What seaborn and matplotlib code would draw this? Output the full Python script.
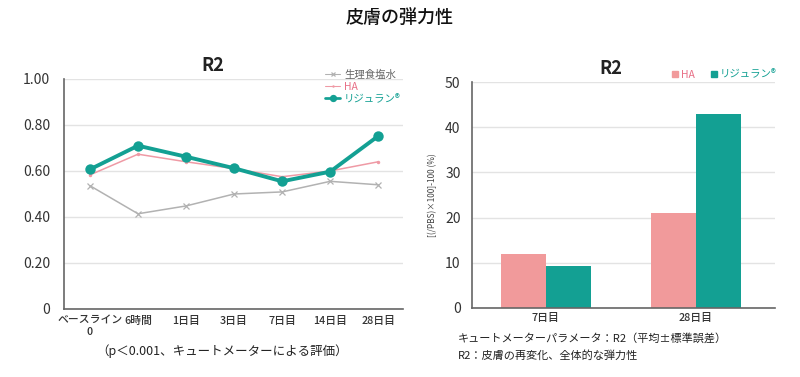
import pandas as pd
import seaborn as sns
import matplotlib.pyplot as plt
from matplotlib.lines import Line2D
from matplotlib.patches import Patch

times = ['ベースライン\n0', '6時間', '1日目', '3日目', '7日目', '14日目', '28日目']
saline = [0.536, 0.414, 0.448, 0.500, 0.509, 0.555, 0.540]
ha = [0.583, 0.673, 0.640, 0.610, 0.575, 0.600, 0.640]
rejuran = [0.607, 0.710, 0.662, 0.612, 0.555, 0.597, 0.752]

bar_days = ['7日目', '28日目']
bar_ha = [12.0, 20.9]
bar_rejuran = [9.2, 43.0]

series_names = ['生理食塩水', 'HA', 'リジュラン®']

teal = '#13a093'
pink_line = '#ef9aa5'
pink_bar = '#f19a9b'
gray = '#b2b2b2'
txt = '#333333'

sns.set_theme(style='white')
plt.rcParams['font.family'] = ['Noto Sans CJK JP', 'DejaVu Sans']

fig = plt.figure(figsize=(8, 3.77), dpi=100)
ax1 = fig.add_axes([0.08, 0.1804, 0.424, 0.6101])
ax2 = fig.add_axes([0.5896, 0.1838, 0.3794, 0.5979])

# line chart
pos = list(range(len(times)))
line_df = pd.DataFrame({
    'x': pos * 3,
    'value': saline + ha + rejuran,
    'group': [series_names[0]] * 7 + [series_names[1]] * 7 + [series_names[2]] * 7,
})
styles = {
    series_names[0]: dict(color=gray, lw=1.1, marker='x', ms=4, mew=0.9),
    series_names[1]: dict(color=pink_line, lw=1.1, marker='o', ms=2.5, mew=0),
    series_names[2]: dict(color=teal, lw=2.8, marker='o', ms=7.5, mew=0),
}
for name in series_names:
    st = styles[name]
    sns.lineplot(data=line_df[line_df['group'] == name], x='x', y='value', ax=ax1,
                 sort=False, color=st['color'], lw=st['lw'], marker=st['marker'],
                 markersize=st['ms'], markeredgewidth=st['mew'],
                 markeredgecolor=st['color'], legend=False)

ax1.set_xlim(-0.54, 6.52)
ax1.set_ylim(0, 1.0)
ax1.set_yticks([0, 0.2, 0.4, 0.6, 0.8, 1.0])
ax1.set_yticklabels(['0', '0.20', '0.40', '0.60', '0.80', '1.00'])
ax1.set_xticks(pos)
ax1.set_xticklabels(times, linespacing=1.1, fontweight='medium')
ax1.set_xlabel('')
ax1.set_ylabel('')
ax1.yaxis.grid(True, color='#e3e3e3', lw=1)
ax1.set_axisbelow(True)
for s in ['top', 'right']:
    ax1.spines[s].set_visible(False)
for s in ['left', 'bottom']:
    ax1.spines[s].set_color('#666666')
    ax1.spines[s].set_linewidth(1.2)
ax1.tick_params(axis='y', labelsize=10, colors=txt, length=0, pad=10)
ax1.tick_params(axis='x', labelsize=7.8, colors=txt, length=3, color='#999999', pad=2)
ax1.set_title('R2', fontsize=13, fontweight='bold', color='#222222', pad=6, x=0.44)

handles = [Line2D([], [], color=styles[n]['color'], lw=styles[n]['lw'] * 0.7,
                  marker=styles[n]['marker'], ms=styles[n]['ms'] * 0.7,
                  mew=styles[n]['mew']) for n in series_names]
leg1 = ax1.legend(handles, series_names, loc='upper left', bbox_to_anchor=(0.395, 0.84),
                  bbox_transform=fig.transFigure, frameon=False, fontsize=7.5,
                  handlelength=1.4, handletextpad=0.4, labelspacing=0.2)
for t, n in zip(leg1.get_texts(), series_names):
    t.set_color({series_names[0]: '#666666', series_names[1]: '#e86f86',
                 series_names[2]: teal}[n])

# bar chart
bar_df = pd.DataFrame({
    'day': bar_days * 2,
    'value': bar_ha + bar_rejuran,
    'group': ['HA'] * 2 + ['リジュラン®'] * 2,
})
sns.barplot(data=bar_df, x='day', y='value', hue='group', ax=ax2,
            palette=[pink_bar, teal], width=0.6, saturation=1, legend=False,
            linewidth=0, gap=0)
ax2.set_xlim(-0.493, 1.53)
ax2.set_ylim(0, 50)
ax2.set_yticks([0, 10, 20, 30, 40, 50])
ax2.set_xlabel('')
ax2.set_ylabel('[(/PBS)×100]-100 (%)', fontsize=6, color='#444444', labelpad=6)
ax2.yaxis.grid(True, color='#e3e3e3', lw=1)
ax2.set_axisbelow(True)
for s in ['top', 'right']:
    ax2.spines[s].set_visible(False)
for s in ['left', 'bottom']:
    ax2.spines[s].set_color('#666666')
    ax2.spines[s].set_linewidth(1.2)
ax2.tick_params(axis='y', labelsize=10, colors=txt, length=0, pad=8)
ax2.tick_params(axis='x', labelsize=7.8, colors=txt, length=0, pad=4)
for lbl in ax2.get_xticklabels():
    lbl.set_fontweight('medium')
ax2.set_title('R2', fontsize=13, fontweight='bold', color='#222222', pad=6, x=0.46)

bh = [Patch(color=pink_bar), Patch(color=teal)]
leg2 = ax2.legend(bh, ['HA', 'リジュラン®'], loc='upper left', bbox_to_anchor=(0.828, 0.84),
                  bbox_transform=fig.transFigure, frameon=False, fontsize=7.5, ncol=2,
                  handlelength=0.6, handleheight=0.6, handletextpad=0.3, columnspacing=1.5)
leg2.get_texts()[0].set_color('#e86f86')
leg2.get_texts()[1].set_color(teal)

fig.text(0.5, 0.952, '皮膚の弾力性', ha='center', va='center', fontsize=13,
         fontweight='medium', color='#111111')
fig.text(0.278, 0.068, '（p＜0.001、キュートメーターによる評価）', ha='center', va='center',
         fontsize=9, color='#222222')
fig.text(0.572, 0.103, 'キュートメーターパラメータ：R2（平均±標準誤差）', ha='left', va='center',
         fontsize=8, color='#222222')
fig.text(0.572, 0.058, 'R2：皮膚の再変化、全体的な弾力性', ha='left', va='center',
         fontsize=8, color='#222222')

fig.savefig('out.png', dpi=100)
